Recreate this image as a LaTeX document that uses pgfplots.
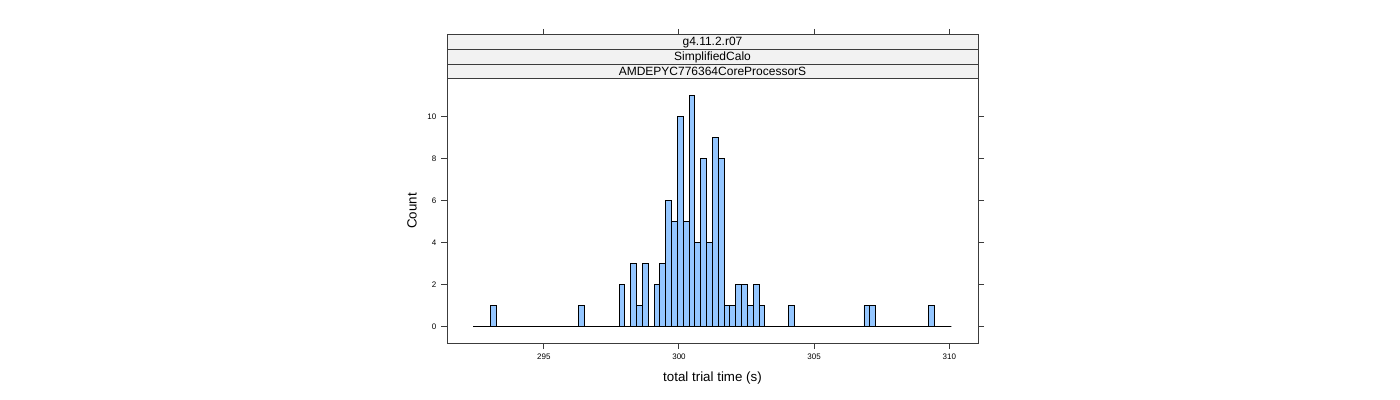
\documentclass[border=0pt]{standalone}
\usepackage{pgfplots}
\pgfplotsset{compat=1.18}
\usepackage{fontspec}
\setmainfont{Liberation Sans}
\definecolor{barfill}{RGB}{148,198,255}
\definecolor{stripbg}{RGB}{242,242,242}
\definecolor{axgray}{RGB}{60,60,60}
\begin{document}
\begin{tikzpicture}[x=1pt,y=1pt]
\path[use as bounding box] (0,0) rectangle (1050,300);
% main panel
\begin{axis}[
  at={(335.25pt,42.75pt)}, anchor=south west,
  scale only axis, width=398.25pt, height=198pt,
  xmin=291.42, xmax=311.06, ymin=-0.77, ymax=11.77,
  xtick={295,300,305,310}, ytick={0,2,4,6,8,10},
  xtick pos=bottom, ytick pos=both,
  tick align=outside, major tick length=4.5pt,
  every tick/.style={axgray, line width=0.75pt},
  axis line style={axgray, line width=0.75pt},
  /pgf/number format/assume math mode=true,
  ticklabel style={font=\fontsize{6}{7}\selectfont},
  xlabel={total trial time (s)}, ylabel={Count},
  label style={font=\fontsize{8.2}{9.5}\selectfont},
  every axis x label/.style={at={(rel axis cs:0.5,0)}, anchor=center, yshift=-26.5pt},
  every axis y label/.style={at={(rel axis cs:0,0.5)}, anchor=center, rotate=90, yshift=26.25pt},
  clip=false,
]
\addplot[ybar interval, fill=barfill, draw=black, line width=0.6pt] coordinates {
(292.390,0) (293.037,1) (293.253,0) (296.273,1) (296.488,0) (297.783,2)
(297.999,0) (298.214,3) (298.430,1) (298.645,3) (298.861,0) (299.077,2)
(299.292,3) (299.508,6) (299.724,5) (299.940,10) (300.155,5) (300.371,11)
(300.587,4) (300.802,8) (301.018,4) (301.234,9) (301.449,8) (301.665,1)
(301.881,1) (302.097,2) (302.312,2) (302.528,1) (302.744,2) (302.959,1)
(303.175,0) (304.038,1) (304.254,0) (306.842,1) (307.058,1) (307.274,0)
(309.215,1) (309.430,0) (310.077,0)
};
\end{axis}
% strips
\begin{axis}[
  at={(335.25pt,240.75pt)}, anchor=south west,
  scale only axis, width=398.25pt, height=33pt,
  xmin=291.42, xmax=311.06, ymin=0, ymax=3,
  xtick={295,300,305,310}, xticklabels={}, xtick pos=top,
  ytick=\empty,
  tick align=outside, major tick length=4.5pt,
  every tick/.style={axgray, line width=0.75pt},
  axis line style={axgray, line width=0.75pt},
  axis background/.style={fill=stripbg},
  clip=false,
]
\draw[axgray, line width=0.75pt] (rel axis cs:0,0.3333) -- (rel axis cs:1,0.3333);
\draw[axgray, line width=0.75pt] (rel axis cs:0,0.6667) -- (rel axis cs:1,0.6667);
\node[font=\fontsize{9}{10}\selectfont] at (rel axis cs:0.5,0.8333) {g4.11.2.r07};
\node[font=\fontsize{9}{10}\selectfont] at (rel axis cs:0.5,0.5) {SimplifiedCalo};
\node[font=\fontsize{9}{10}\selectfont] at (rel axis cs:0.5,0.1667) {AMDEPYC776364CoreProcessorS};
\end{axis}
\end{tikzpicture}
\end{document}
